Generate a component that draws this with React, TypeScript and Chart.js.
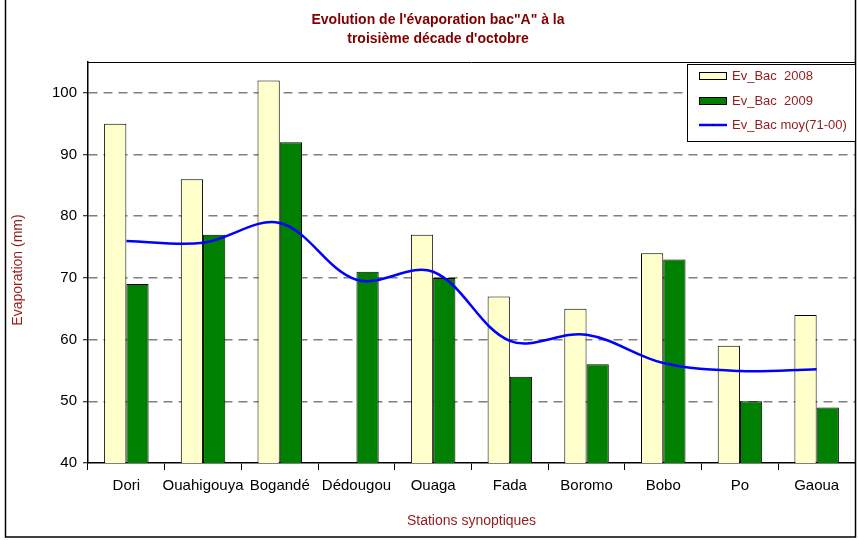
import React, { useEffect, useRef } from "react";
import { Chart, registerables } from "chart.js";

Chart.register(...registerables);

const stations = ["Dori", "Ouahigouya", "Bogandé", "Dédougou", "Ouaga", "Fada", "Boromo", "Bobo", "Po", "Gaoua"];
const evBac2008: (number | null)[] = [95, 86, 102, null, 77, 67, 65, 74, 59, 64];
const evBac2009: number[] = [69, 77, 92, 71, 70, 54, 56, 73, 50, 49];
const evBacMoy: number[] = [76, 75.7, 78.9, 69.7, 71, 59.8, 60.8, 56.2, 54.9, 55.2];
const yTickValues = [40, 50, 60, 70, 80, 90, 100];
const titleLines = ["Evolution de l'évaporation bac\"A\" à la", "troisième décade d'octobre"];
const seriesNames = ["Ev_Bac  2008", "Ev_Bac  2009", "Ev_Bac moy(71-00)"];
const xTitle = "Stations synoptiques";
const yTitle = "Evaporation (mm)";

const FONT = "'Liberation Sans', Arial, sans-serif";
const DARKRED = "#800000";
const TEXTRED = "#931a1a";

const decorPlugin = {
  id: "decor",
  afterDraw(chart: any) {
    const ctx = chart.ctx;
    const area = chart.chartArea;
    ctx.save();
    // plot area top border
    ctx.strokeStyle = "#000";
    ctx.lineWidth = 1;
    ctx.beginPath();
    ctx.moveTo(area.left, area.top + 0.5);
    ctx.lineTo(area.right, area.top + 0.5);
    ctx.stroke();
    // outer frame
    ctx.lineWidth = 1.5;
    ctx.strokeRect(5.5, -2, 850, 539);

    // title
    ctx.fillStyle = DARKRED;
    ctx.font = `bold 14px ${FONT}`;
    ctx.textAlign = "center";
    ctx.textBaseline = "middle";
    ctx.fillText(titleLines[0], 438, 20);
    ctx.fillText(titleLines[1], 438, 39);

    // axis titles
    ctx.fillStyle = TEXTRED;
    ctx.font = `14px ${FONT}`;
    ctx.fillText(xTitle, (area.left + area.right) / 2, 521);
    ctx.save();
    ctx.translate(18, 270);
    ctx.rotate(-Math.PI / 2);
    ctx.fillText(yTitle, 0, 0);
    ctx.restore();

    // legend
    const lx = 687.5, ly = 64.5, lw = 168, lh = 77;
    ctx.fillStyle = "#fff";
    ctx.fillRect(lx, ly, lw, lh);
    ctx.strokeStyle = "#000";
    ctx.lineWidth = 1;
    ctx.strokeRect(lx, ly, lw, lh);
    const rows = [76, 101, 125];
    const ds = chart.data.datasets;
    for (let i = 0; i < 3; i++) {
      const y = rows[i];
      if (i < 2) {
        ctx.fillStyle = ds[i].backgroundColor;
        ctx.fillRect(699.5, y - 3.5, 27, 7);
        ctx.strokeStyle = "#000";
        ctx.strokeRect(699.5, y - 3.5, 27, 7);
      } else {
        ctx.strokeStyle = ds[i].borderColor;
        ctx.lineWidth = 2.5;
        ctx.beginPath();
        ctx.moveTo(699, y);
        ctx.lineTo(727, y);
        ctx.stroke();
        ctx.fillStyle = "#000066";
        ctx.fillRect(712, y - 1, 2, 2);
        ctx.lineWidth = 1;
      }
      ctx.fillStyle = TEXTRED;
      ctx.font = `13px ${FONT}`;
      ctx.textAlign = "left";
      ctx.textBaseline = "middle";
      ctx.fillText(seriesNames[i], 732, y);
    }
    ctx.restore();
  },
};

export default function App() {
  const ref = useRef<HTMLCanvasElement | null>(null);
  useEffect(() => {
    if (!ref.current) return;
    const chart = new Chart(ref.current, {
      type: "bar",
      data: {
        labels: stations,
        datasets: [
          {
            type: "bar",
            label: seriesNames[0],
            data: evBac2008,
            backgroundColor: "#FFFFCC",
            borderColor: "#000",
            borderWidth: 1,
            order: 2,
          },
          {
            type: "bar",
            label: seriesNames[1],
            data: evBac2009,
            backgroundColor: "#008000",
            borderColor: "#000",
            borderWidth: 1,
            order: 2,
          },
          {
            type: "line",
            label: seriesNames[2],
            data: evBacMoy,
            borderColor: "#0000FF",
            backgroundColor: "#0000FF",
            borderWidth: 2.5,
            pointRadius: 0,
            tension: 0.35,
            fill: false,
            order: 0,
          } as any,
        ],
      },
      options: {
        responsive: false,
        animation: false,
        devicePixelRatio: 1,
        layout: { padding: { left: 0, right: 3, top: 62, bottom: 0 } },
        datasets: {
          bar: { categoryPercentage: 0.58, barPercentage: 1.0 },
        },
        plugins: {
          legend: { display: false },
          title: { display: false },
          tooltip: { enabled: false },
        },
        scales: {
          x: {
            offset: true,
            grid: {
              display: true,
              offset: true,
              drawOnChartArea: false,
              drawTicks: true,
              tickLength: 7,
              tickColor: "#000",
              tickWidth: 1,
            },
            border: { display: true, color: "#000", width: 1.5 },
            ticks: {
              color: "#000",
              font: { family: FONT, size: 15 },
              padding: 7,
              maxRotation: 0,
              autoSkip: false,
            },
            afterFit(scale: any) {
              scale.height = 77;
            },
          },
          y: {
            min: 40,
            max: 105,
            afterBuildTicks(scale: any) {
              scale.ticks = yTickValues.map((v) => ({ value: v }));
            },
            grid: {
              color: (c: any) => (c.tick && c.tick.value === 40 ? "rgba(0,0,0,0)" : "#7f7f7f"),
              lineWidth: 1.5,
              drawTicks: true,
              tickLength: 5,
              tickColor: "#000",
              tickWidth: 1,
              tickBorderDash: [],
            } as any,
            border: { display: true, color: "#000", width: 1.5, dash: [9, 6] },
            ticks: {
              color: "#000",
              font: { family: FONT, size: 15 },
              padding: 6,
            },
            afterFit(scale: any) {
              scale.width = 88;
            },
          },
        },
      },
      plugins: [decorPlugin],
    });
    return () => chart.destroy();
  }, []);
  return (
    <>
      <style>{`body{margin:0;background:#fff;}`}</style>
      <canvas ref={ref} width={858} height={540} style={{ display: "block", width: 858, height: 540 }} />
    </>
  );
}
